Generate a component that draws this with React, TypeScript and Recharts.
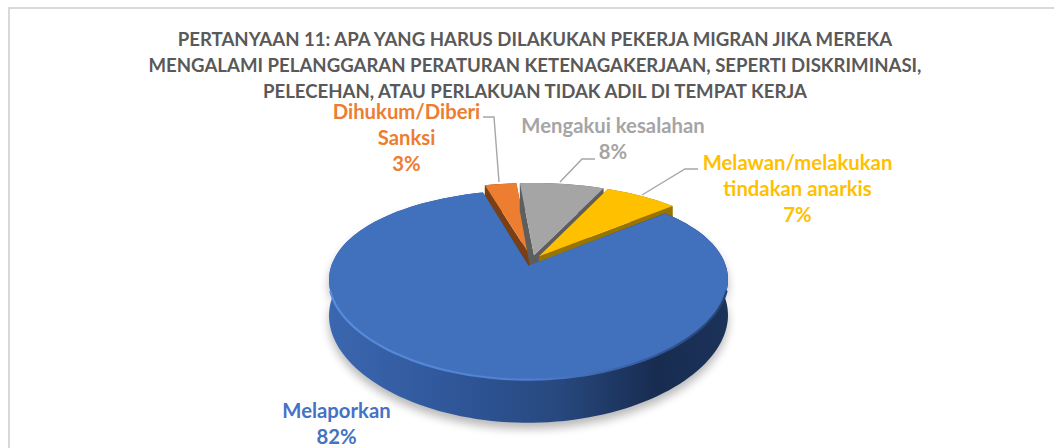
import { Pie, PieChart, Cell } from "recharts";

const categories = ["Melaporkan", "Dihukum/Diberi Sanksi", "Mengakui kesalahan", "Melawan/melakukan tindakan anarkis"];
const shares = [82, 3, 8, 7];
const faceColors = ["#4170bd", "#ed7d31", "#a5a5a5", "#ffc000"];
const wallColors = ["url(#blueWall)", "#7a3f15", "#5e5e5e", "#9a7400"];
const labelColors = ["#4472c4", "#ed7d31", "#a5a5a5", "#ffc000"];
const labelLines = [["Melaporkan"], ["Dihukum/Diberi", "Sanksi"], ["Mengakui kesalahan"], ["Melawan/melakukan", "tindakan anarkis"]];
const titleLines = [
  "PERTANYAAN 11: APA YANG HARUS DILAKUKAN PEKERJA MIGRAN JIKA MEREKA",
  "MENGALAMI PELANGGARAN PERATURAN KETENAGAKERJAAN, SEPERTI DISKRIMINASI,",
  "PELECEHAN, ATAU PERLAKUAN TIDAK ADIL DI TEMPAT KERJA",
];

const rows = categories.map((name, i) => ({ name, value: shares[i] }));

// label placement, by slice
const labelSpots = [
  { x: 336.5, y: 418, leader: "" },
  { x: 406.5, y: 119, leader: "M483,117 L494,117 L499,182" },
  { x: 613, y: 133, leader: "M595,159 L582,159 L560,182" },
  { x: 797.5, y: 170, leader: "M698,169 L685,169 L642,195" },
];

// tilted disc: the pie's own angles are projected on a plane seen in perspective
const CX = 532;
const CY = 260.5;
const WIDE = 195.5;
const TALL = 88.7;
const PERSP_X = 0.15;
const PERSP_Y = 0.201;
const DEPTH = 34;
const EXPLODE = 0.06;

const project = (u: number, v: number, drop = 0) => {
  const wy = 1 + PERSP_Y * v;
  return [CX + (WIDE * u) / (1 + PERSP_X * v), CY - (TALL * v) / wy + drop / wy];
};

const rad = (a: number) => (a * Math.PI) / 180;

function slicePoints(startAngle: number, endAngle: number, drop = 0) {
  const mid = rad((startAngle + endAngle) / 2);
  const ox = EXPLODE * Math.cos(mid);
  const oy = EXPLODE * Math.sin(mid);
  const arc: number[][] = [];
  const steps = Math.max(2, Math.ceil(Math.abs(endAngle - startAngle) / 2));
  for (let i = 0; i <= steps; i++) {
    const a = rad(startAngle + ((endAngle - startAngle) * i) / steps);
    arc.push(project(ox + Math.cos(a), oy + Math.sin(a), drop));
  }
  return { apex: project(ox, oy, drop), arc };
}

const toPath = (pts: number[][], close = true) =>
  "M" + pts.map((p) => `${p[0].toFixed(1)},${p[1].toFixed(1)}`).join(" L") + (close ? " Z" : "");

function sliceShape(props: any, front: boolean) {
  const name = props.payload?.name ?? props.name;
  const i = categories.indexOf(name);
  const isBig = i === 0;
  if (isBig !== front) return <g />;
  const top = slicePoints(props.startAngle, props.endAngle);
  const low = slicePoints(props.startAngle, props.endAngle, DEPTH);
  const face = toPath([top.apex, ...top.arc]);
  const wall = toPath([...top.arc, ...[...low.arc].reverse()]);
  const firstCut = toPath([top.apex, top.arc[0], low.arc[0], low.apex]);
  const lastCut = toPath([top.apex, top.arc[top.arc.length - 1], low.arc[low.arc.length - 1], low.apex]);
  // the lit edge only shows along the near half of the disc
  const nearArc = top.arc.filter((p) => p[1] > 290);
  return (
    <g>
      {isBig && <path d={wall} fill="#000" opacity={0.28} filter="url(#softShadow)" transform="translate(0,6)" />}
      <path d={firstCut} fill={wallColors[i]} />
      <path d={lastCut} fill={wallColors[i]} />
      <path d={wall} fill={wallColors[i]} />
      <path d={face} fill={faceColors[i]} />
      {isBig && (
        <path d={toPath(nearArc, false)} fill="none" stroke="url(#blueRim)" strokeWidth={2.2} filter="url(#softRim)" />
      )}
    </g>
  );
}

function sliceLabel(props: any) {
  const i = props.index;
  const spot = labelSpots[i];
  const lines = [...labelLines[i], `${shares[i]}%`];
  return (
    <g key={i}>
      {spot.leader && <path d={spot.leader} fill="none" stroke="#a6a6a6" strokeWidth={1.4} />}
      <text x={spot.x} y={spot.y} textAnchor="middle" fontFamily="Lato" fontWeight={700} fontSize={20.3} fill={labelColors[i]}>
        {lines.map((line, k) => (
          <tspan key={k} x={spot.x} dy={k === 0 ? 0 : 26}>
            {line}
          </tspan>
        ))}
      </text>
    </g>
  );
}

export default function App() {
  return (
    <div style={{ position: "absolute", left: 0, top: 0, width: 1054, height: 448, background: "#fff", overflow: "hidden" }}>
      <PieChart width={1054} height={448} margin={{ top: 0, right: 0, bottom: 0, left: 0 }}>
        <defs>
          <linearGradient id="blueWall" x1="0" y1="0" x2="1" y2="0">
            <stop offset="0%" stopColor="#3b67b0" />
            <stop offset="30%" stopColor="#30579a" />
            <stop offset="58%" stopColor="#27487e" />
            <stop offset="82%" stopColor="#182c50" />
            <stop offset="100%" stopColor="#1b3259" />
          </linearGradient>
          <linearGradient id="blueRim" gradientUnits="userSpaceOnUse" x1="327" y1="0" x2="729" y2="0">
            <stop offset="0%" stopColor="#5a8cdc" />
            <stop offset="50%" stopColor="#4d80d0" />
            <stop offset="80%" stopColor="#355a9c" />
            <stop offset="100%" stopColor="#243f70" />
          </linearGradient>
          <filter id="softShadow" x="-10%" y="-10%" width="120%" height="130%">
            <feGaussianBlur stdDeviation="5" />
          </filter>
          <filter id="softRim" x="-5%" y="-5%" width="110%" height="110%">
            <feGaussianBlur stdDeviation="0.7" />
          </filter>
        </defs>
        <path d="M9,448 L9,8 L1054,8" fill="none" stroke="#d9d9d9" strokeWidth={2} />
        <Pie
          data={rows}
          dataKey="value"
          nameKey="name"
          cx={CX}
          cy={CY}
          outerRadius={100}
          startAngle={40.7}
          endAngle={-319.3}
          stroke="none"
          isAnimationActive={false}
          shape={(p: any) => sliceShape(p, false)}
        >
          {rows.map((r, i) => (
            <Cell key={r.name} fill={faceColors[i]} />
          ))}
        </Pie>
        <Pie
          data={rows}
          dataKey="value"
          nameKey="name"
          cx={CX}
          cy={CY}
          outerRadius={100}
          startAngle={40.7}
          endAngle={-319.3}
          stroke="none"
          isAnimationActive={false}
          shape={(p: any) => sliceShape(p, true)}
          label={sliceLabel}
          labelLine={false}
        >
          {rows.map((r, i) => (
            <Cell key={r.name} fill={faceColors[i]} />
          ))}
        </Pie>
        <text textAnchor="middle" fontFamily="Lato" fontWeight={700} fontSize={18.6} fill="#595959">
          {titleLines.map((line, k) => (
            <tspan key={k} x={535} y={46 + k * 26}>
              {line}
            </tspan>
          ))}
        </text>
      </PieChart>
    </div>
  );
}
